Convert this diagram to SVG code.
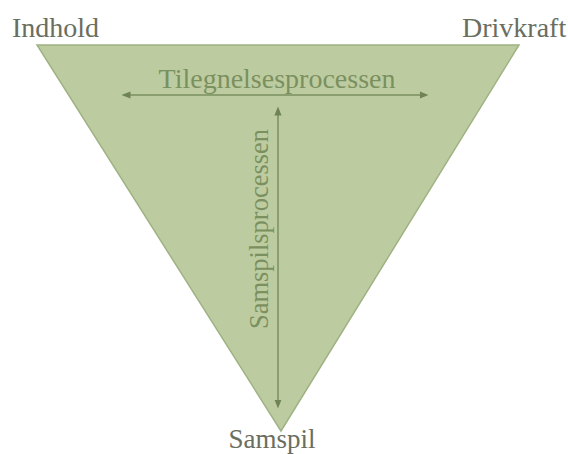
<svg xmlns="http://www.w3.org/2000/svg" width="568" height="454" viewBox="0 0 568 454">
<style>
.lbl{font-family:"Liberation Serif","Times New Roman",serif;font-size:28px;fill:#6a6e5e}
.inner{font-family:"Liberation Serif","Times New Roman",serif;font-size:28px;fill:#7b905f}
.ar{stroke:#7b8f60;stroke-width:1.5;fill:none}
</style>
<defs>
<marker id="ah" viewBox="0 0 10 10" refX="5" refY="5" markerWidth="6" markerHeight="6" orient="auto-start-reverse">
<path d="M0,1 L10,5 L0,9 z" fill="#6f8455"/>
</marker>
</defs>
<rect width="568" height="454" fill="#ffffff"/>
<g id="triangle">
<polygon points="37,45 519,45 281,431" fill="#bdcca0" stroke="#9fb283" stroke-width="1.5"/>
</g>
<g id="indhold"><text class="lbl" x="12" y="37">Indhold</text></g>
<g id="drivkraft"><text class="lbl" x="462" y="37">Drivkraft</text></g>
<g id="samspil"><text class="lbl" x="272" y="448" text-anchor="middle" style="font-size:27px">Samspil</text></g>
<g id="connectors">
<line class="ar" x1="126" y1="95" x2="424" y2="95" marker-start="url(#ah)" marker-end="url(#ah)"/>
<line class="ar" x1="278" y1="111" x2="278" y2="404" marker-start="url(#ah)" marker-end="url(#ah)"/>
</g>
<g id="tilegnelse"><text class="inner" x="277" y="88" text-anchor="middle">Tilegnelsesprocessen</text></g>
<g id="samspilsproc"><text class="inner" transform="translate(268,229) rotate(-90)" text-anchor="middle" style="font-size:26.5px">Samspilsprocessen</text></g>
</svg>
